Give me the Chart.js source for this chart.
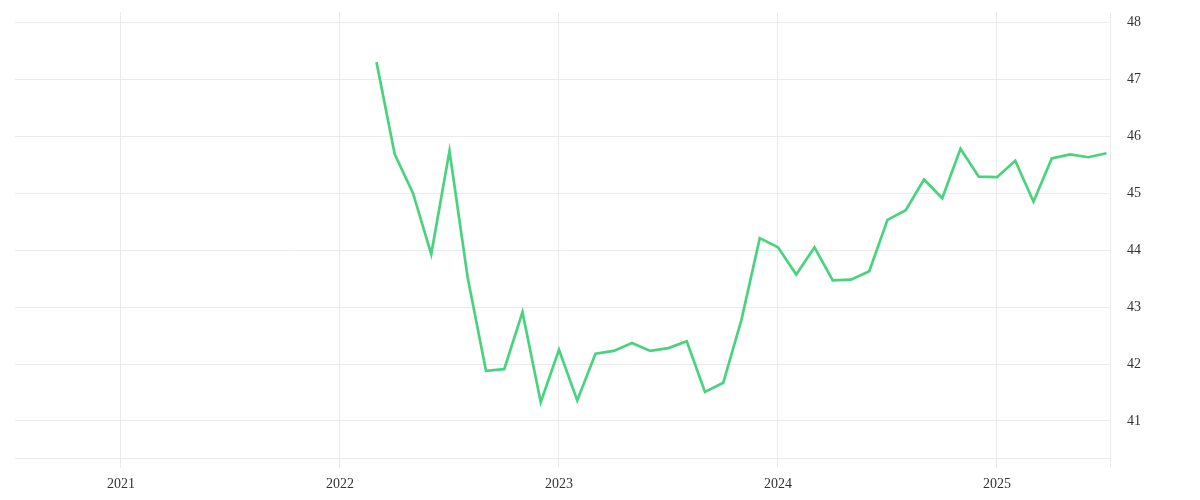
<!DOCTYPE html>
<html>
<head>
<meta charset="utf-8">
<script src="https://cdn.jsdelivr.net/npm/chart.js@4/dist/chart.umd.min.js"></script>
<style>
  html, body { margin: 0; padding: 0; background: #fff; }
  #wrap { width: 1200px; height: 500px; }
</style>
</head>
<body>
<div id="wrap"><canvas id="chart"></canvas></div>
<script>
// monthly readings, Mar 2022 - Jul 2025
const months = [
  '2022-03','2022-04','2022-05','2022-06','2022-07','2022-08','2022-09','2022-10','2022-11','2022-12',
  '2023-01','2023-02','2023-03','2023-04','2023-05','2023-06','2023-07','2023-08','2023-09','2023-10','2023-11','2023-12',
  '2024-01','2024-02','2024-03','2024-04','2024-05','2024-06','2024-07','2024-08','2024-09','2024-10','2024-11','2024-12',
  '2025-01','2025-02','2025-03','2025-04','2025-05','2025-06','2025-07'
];
const values = [
  47.30, 45.68, 45.00, 43.93, 45.74, 43.51, 41.88, 41.91, 42.91, 41.33,
  42.25, 41.36, 42.18, 42.23, 42.37, 42.23, 42.28, 42.40, 41.51, 41.67, 42.78, 44.21,
  44.05, 43.57, 44.05, 43.47, 43.48, 43.63, 44.53, 44.70, 45.24, 44.91, 45.78, 45.29,
  45.28, 45.57, 44.85, 45.61, 45.68, 45.63, 45.70
];
const yearTicks = [2021, 2022, 2023, 2024, 2025];
const valueTicks = [41, 42, 43, 44, 45, 46, 47, 48];

const xMin = 2020.516, xMax = 2025.516;
const yMin = 40.35, yMax = 48.18;

function toYear(m) {
  const [y, mo] = m.split('-').map(Number);
  return y + (mo - 1) / 12;
}

const points = months.map((m, i) => ({ x: toYear(m), y: values[i] }));

const gridColor = '#ebebeb';
const tickFont = { family: '"Liberation Serif", serif', size: 14 };

new Chart(document.getElementById('chart'), {
  type: 'line',
  data: {
    datasets: [{
      data: points,
      borderColor: '#4ad37e',
      borderWidth: 2.7,
      pointRadius: 0,
      tension: 0,
      fill: false
    }]
  },
  options: {
    responsive: true,
    maintainAspectRatio: false,
    animation: false,
    layout: { padding: { top: 12, left: 15, right: 0, bottom: 0 } },
    plugins: { legend: { display: false }, tooltip: { enabled: false } },
    scales: {
      x: {
        type: 'linear',
        min: xMin,
        max: xMax,
        afterBuildTicks: axis => {
          axis.ticks = yearTicks.map(v => ({ value: v })).concat([{ value: xMax }]);
        },
        afterFit: axis => { axis.height = 42; },
        grid: { color: gridColor, tickLength: 10, tickColor: gridColor },
        border: { display: true, color: gridColor },
        ticks: {
          color: '#333',
          font: tickFont,
          padding: 8,
          maxRotation: 0,
          autoSkip: false,
          callback: v => Number.isInteger(v) ? String(v) : ''
        }
      },
      y: {
        position: 'right',
        min: yMin,
        max: yMax,
        afterBuildTicks: axis => {
          axis.ticks = valueTicks.map(v => ({ value: v }));
        },
        afterFit: axis => {
          axis.width = 90;
          axis.paddingTop = 0;
          axis.paddingBottom = 0;
        },
        grid: { color: gridColor, drawTicks: false },
        border: { display: false },
        ticks: {
          color: '#333',
          font: tickFont,
          padding: 17,
          callback: v => String(v)
        }
      }
    }
  }
});
</script>
</body>
</html>
